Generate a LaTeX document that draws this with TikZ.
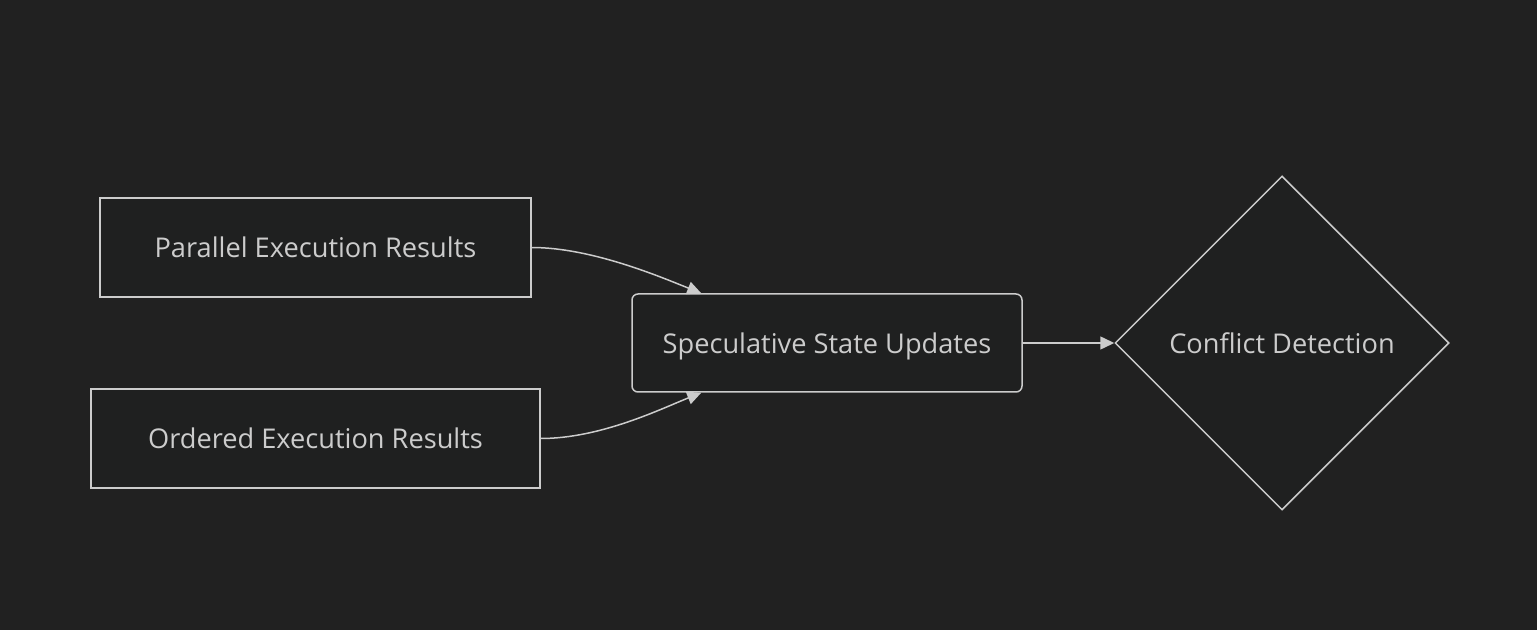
\documentclass[tikz,border=0pt]{standalone}
\usepackage{fontspec}
\setmainfont{Open Sans}
\usetikzlibrary{arrows.meta,shapes.geometric}
\definecolor{bgdark}{HTML}{212121}
\definecolor{boxfill}{HTML}{1F2020}
\definecolor{edge}{HTML}{CCCCCC}
\definecolor{txt}{HTML}{CCCCCC}

\begin{document}
\begin{tikzpicture}[x=0.5pt,y=-0.5pt,
    box/.style={draw=edge, fill=boxfill, line width=0.75pt, text=txt,
        font=\fontsize{13.6}{16}\selectfont, inner sep=0pt, text depth=0pt},
    link/.style={draw=edge, line width=0.75pt,
        -{Triangle[length=7pt,width=6.5pt]}}]
            \fill[bgdark] (0,0) rectangle (1537,630);
            \useasboundingbox (0,0) rectangle (1537,630);
            \node[box, minimum width=215.5pt, minimum height=49.5pt] (par) at (315.5,247.5) {Parallel Execution Results};
            \node[box, minimum width=224.5pt, minimum height=49.5pt] (ord) at (315.5,438.5) {Ordered Execution Results};
            \node[box, rounded corners=3pt, minimum width=195pt, minimum height=49pt] (spec) at (827,343) {Speculative State Updates};
            \node[box, diamond, aspect=1, minimum size=167pt] (conf) at (1282,343) {Conflict Detection};
            \draw[link] (par.east) .. controls +(60,0) and +(-40,-16) .. ([xshift=35pt]spec.north west);
            \draw[link] (ord.east) .. controls +(60,0) and +(-40,16) .. ([xshift=35pt]spec.south west);
            \draw[link] (spec.east) -- (conf.west);
        \end{tikzpicture}
\end{document}
